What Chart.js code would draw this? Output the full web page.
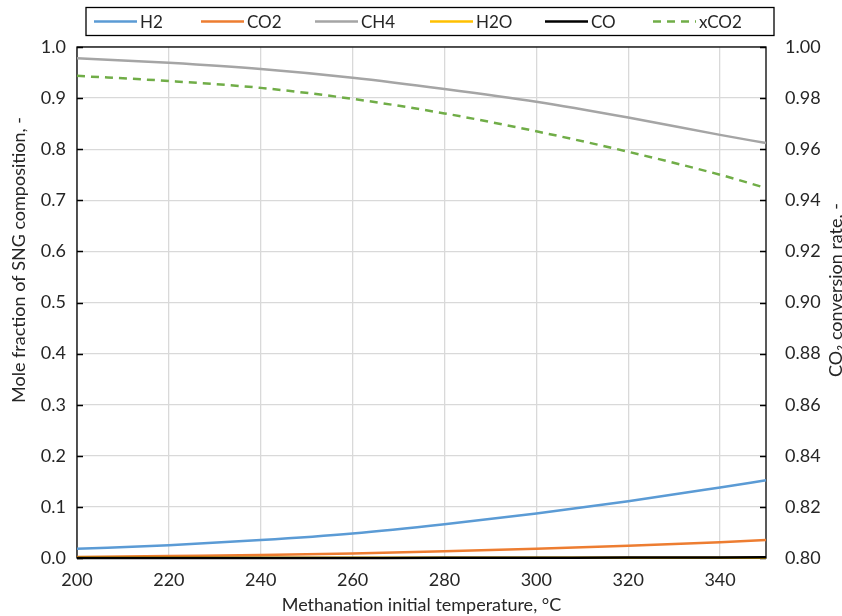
<!DOCTYPE html>
<html>
<head>
<meta charset="utf-8">
<script src="https://cdn.jsdelivr.net/npm/chart.js@4/dist/chart.umd.min.js"></script>
<style>
	html, body { margin: 0; padding: 0; background: #fff; }
	#wrap { width: 842px; height: 616px; }
</style>
</head>
<body>
<div id="wrap"><canvas id="sngChart" width="842" height="616"></canvas></div>
<script>
// temperatures (°C)
const temps = [200, 220, 240, 260, 280, 300, 320, 340, 350];
const h2 = [0.018, 0.025, 0.035, 0.048, 0.066, 0.087, 0.111, 0.138, 0.152];
const co2 = [0.002, 0.004, 0.006, 0.009, 0.013, 0.018, 0.024, 0.031, 0.035];
const ch4 = [0.978, 0.969, 0.957, 0.940, 0.918, 0.893, 0.862, 0.828, 0.812];
const h2o = [0.0005, 0.0005, 0.0005, 0.0005, 0.0005, 0.0005, 0.0005, 0.0005, 0.0005];
const co = [0.0, 0.0, 0.0001, 0.0002, 0.0003, 0.0005, 0.0008, 0.0012, 0.0015];
const xco2 = [0.9887, 0.9867, 0.9840, 0.9797, 0.9740, 0.9670, 0.9590, 0.9500, 0.9448];

const xTicks = [200, 220, 240, 260, 280, 300, 320, 340];
const yTicks = [0, 0.1, 0.2, 0.3, 0.4, 0.5, 0.6, 0.7, 0.8, 0.9, 1.0];
const y1Ticks = [0.80, 0.82, 0.84, 0.86, 0.88, 0.90, 0.92, 0.94, 0.96, 0.98, 1.00];

const FONT = 'Lato, "Noto Sans", "DejaVu Sans", sans-serif';
const TEXT = '#262626';

function pts(values) {
	return temps.map((t, i) => ({ x: t, y: values[i] }));
}

function line(label, values, color, extra) {
	return Object.assign({
		label: label,
		data: pts(values),
		borderColor: color,
		backgroundColor: color,
		borderWidth: 2.5,
		pointRadius: 0,
		cubicInterpolationMode: 'monotone',
		clip: 5,
		yAxisID: 'y'
	}, extra || {});
}

// frame, inner tick marks, y titles and the boxed legend
const decor = {
	id: 'decor',
	beforeDatasetsDraw(chart) {
		const { ctx, chartArea: a } = chart;
		ctx.save();
		ctx.strokeStyle = '#000';
		ctx.lineWidth = 1.3;
		ctx.strokeRect(a.left, a.top, a.right - a.left, a.bottom - a.top);
		chart.scales.y.ticks.forEach(t => {
			const py = Math.round(chart.scales.y.getPixelForValue(t.value)) + 0.5;
			ctx.beginPath();
			ctx.moveTo(a.left, py);
			ctx.lineTo(a.left + 6, py);
			ctx.moveTo(a.right - 6, py);
			ctx.lineTo(a.right, py);
			ctx.stroke();
		});
		ctx.restore();
	},
	afterDraw(chart) {
		const { ctx } = chart;
		ctx.save();
		ctx.fillStyle = TEXT;
		ctx.font = '18px ' + FONT;
		ctx.textAlign = 'center';
		ctx.textBaseline = 'middle';

		ctx.save();
		ctx.translate(19, 260);
		ctx.rotate(-Math.PI / 2);
		ctx.fillText('Mole fraction of SNG composition, -', 0, 0);
		ctx.restore();

		ctx.save();
		ctx.translate(836, 290);
		ctx.rotate(-Math.PI / 2);
		ctx.fillText('CO\u2082 conversion rate, -', 0, 0);
		ctx.restore();

		// legend
		const starts = [94, 201, 315, 430, 545, 653];
		const ly = 21.5;
		ctx.strokeStyle = '#000';
		ctx.lineWidth = 1.3;
		ctx.strokeRect(86, 7.5, 688, 28);
		ctx.textAlign = 'left';
		ctx.font = '17px ' + FONT;
		chart.data.datasets.forEach((ds, i) => {
			const x0 = starts[i];
			ctx.beginPath();
			ctx.strokeStyle = ds.borderColor;
			ctx.lineWidth = ds.borderWidth;
			ctx.setLineDash(ds.borderDash || []);
			ctx.moveTo(x0, ly);
			ctx.lineTo(x0 + 43, ly);
			ctx.stroke();
			ctx.setLineDash([]);
			ctx.fillText(ds.label, x0 + 46, ly + 1);
		});
		ctx.restore();
	}
};

new Chart(document.getElementById('sngChart').getContext('2d'), {
	type: 'line',
	data: {
		datasets: [
			line('H2', h2, '#5b9bd5', { order: 6 }),
			line('CO2', co2, '#ed7d31', { order: 5 }),
			line('CH4', ch4, '#a5a5a5', { order: 4 }),
			line('H2O', h2o, '#ffc000', { order: 3 }),
			line('CO', co, '#000000', { order: 2 }),
			line('xCO2', xco2, '#70ad47', { order: 1, yAxisID: 'y1', borderDash: [8, 6] })
		]
	},
	options: {
		responsive: false,
		animation: false,
		layout: { padding: { top: 47, left: 0, right: 0, bottom: 0 } },
		plugins: {
			legend: { display: false },
			tooltip: { enabled: false }
		},
		scales: {
			x: {
				type: 'linear',
				min: 200,
				max: 350,
				afterBuildTicks: s => { s.ticks = xTicks.map(v => ({ value: v })); },
				afterFit: s => { s.height = 58; },
				grid: { color: '#d9d9d9', lineWidth: 1.3, drawTicks: false },
				border: { display: false },
				ticks: {
					padding: 11,
					color: TEXT,
					font: { family: FONT, size: 18 },
					maxRotation: 0
				},
				title: {
					display: true,
					text: 'Methanation initial temperature, °C',
					color: TEXT,
					font: { family: FONT, size: 18 },
					padding: { top: 0, bottom: 0 }
				}
			},
			y: {
				position: 'left',
				min: 0,
				max: 1,
				afterBuildTicks: s => { s.ticks = yTicks.map(v => ({ value: v })); },
				afterFit: s => { s.width = 77; },
				grid: { color: '#d9d9d9', lineWidth: 1.3, drawTicks: false },
				border: { display: false },
				ticks: {
					padding: 11,
					color: TEXT,
					font: { family: FONT, size: 18 },
					callback: v => v.toFixed(1)
				}
			},
			y1: {
				position: 'right',
				min: 0.8,
				max: 1.0,
				afterBuildTicks: s => { s.ticks = y1Ticks.map(v => ({ value: v })); },
				afterFit: s => { s.width = 76; },
				grid: { drawOnChartArea: false, drawTicks: false },
				border: { display: false },
				ticks: {
					padding: 19,
					color: TEXT,
					font: { family: FONT, size: 18 },
					callback: v => v.toFixed(2)
				}
			}
		}
	},
	plugins: [decor]
});
</script>
</body>
</html>
